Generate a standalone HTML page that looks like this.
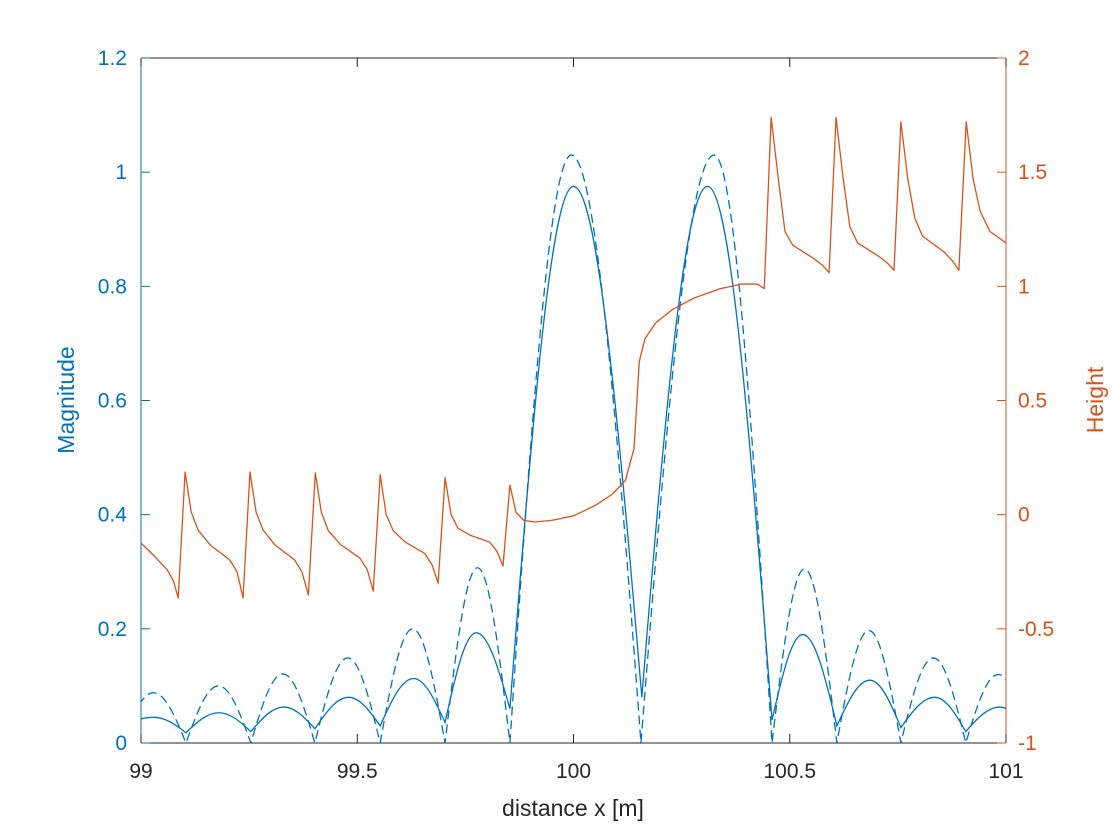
<!DOCTYPE html>
<html><head><meta charset="utf-8"><style>
html,body{margin:0;padding:0;background:#fff;}
svg{display:block;font-family:"Liberation Sans",sans-serif;}
</style></head><body>
<svg id="chart" width="1113" height="834" viewBox="0 0 1113 834" xmlns="http://www.w3.org/2000/svg">
<defs><clipPath id="plotclip"><rect x="141" y="58" width="865" height="685"/></clipPath></defs>
<rect width="1113" height="834" fill="#fff"/>
<g id="axes"></g>
<g id="series" clip-path="url(#plotclip)"></g>
<g id="labels"></g>
</svg>
<script>
// x tick values
const xTicks = [99, 99.5, 100, 100.5, 101];
const xTickLabels = ["99", "99.5", "100", "100.5", "101"];
const leftTicks = [0, 0.2, 0.4, 0.6, 0.8, 1, 1.2];
const leftTickLabels = ["0", "0.2", "0.4", "0.6", "0.8", "1", "1.2"];
const rightTicks = [-1, -0.5, 0, 0.5, 1, 1.5, 2];
const rightTickLabels = ["-1", "-0.5", "0", "0.5", "1", "1.5", "2"];

// dashed magnitude: lobe minima (x, value) and lobe peaks (x, value)
const dashMinX = [98.954, 99.104, 99.254, 99.402, 99.553, 99.703, 99.853, 100.156, 100.459, 100.609, 100.757, 100.907, 101.057];
const dashMin = [0, 0, 0, 0, 0, 0, 0, 0, 0, 0, 0, 0, 0];
const dashPeakX = [99.029, 99.179, 99.328, 99.478, 99.628, 99.778, 99.995, 100.325, 100.534, 100.683, 100.832, 100.982];
const dashPeak = [0.088, 0.100, 0.121, 0.149, 0.200, 0.307, 1.03, 1.03, 0.305, 0.197, 0.149, 0.12];

// solid magnitude
const solidMinX = [98.954, 99.104, 99.254, 99.402, 99.553, 99.703, 99.853, 100.158, 100.459, 100.609, 100.757, 100.907, 101.057];
const solidMin = [0.03, 0.018, 0.02, 0.025, 0.03, 0.036, 0.06, 0.08, 0.04, 0.03, 0.027, 0.02, 0.02];
const solidPeakX = [99.03, 99.18, 99.33, 99.48, 99.63, 99.775, 100.0, 100.31, 100.53, 100.685, 100.835, 100.985];
const solidPeak = [0.045, 0.053, 0.063, 0.08, 0.113, 0.193, 0.975, 0.975, 0.19, 0.11, 0.08, 0.063];

// height (right axis)
const heightX = [99.000,99.030,99.060,99.075,99.086,99.102,99.116,99.132,99.160,99.205,99.222,99.236,99.252,99.266,99.282,99.310,99.355,99.372,99.387,99.403,99.417,99.433,99.461,99.506,99.523,99.537,99.553,99.567,99.583,99.611,99.656,99.673,99.687,99.703,99.717,99.733,99.761,99.806,99.823,99.837,99.853,99.867,99.885,99.91,99.95,100.0,100.05,100.09,100.12,100.14,100.152,100.165,100.19,100.23,100.28,100.34,100.39,100.425,100.441,100.457,100.473,100.489,100.507,100.557,100.577,100.591,100.607,100.623,100.639,100.657,100.707,100.727,100.741,100.757,100.773,100.789,100.807,100.857,100.877,100.891,100.908,100.924,100.94,100.963,101.0];
const heightY = [-0.124,-0.18,-0.24,-0.29,-0.365,0.187,0.012,-0.067,-0.133,-0.198,-0.25,-0.365,0.187,0.012,-0.067,-0.133,-0.198,-0.25,-0.352,0.183,0.01,-0.07,-0.13,-0.19,-0.24,-0.335,0.175,0.0,-0.07,-0.12,-0.17,-0.22,-0.30,0.162,0.0,-0.06,-0.09,-0.12,-0.16,-0.225,0.130,0.01,-0.025,-0.032,-0.025,-0.005,0.04,0.09,0.15,0.29,0.67,0.77,0.84,0.90,0.95,0.99,1.01,1.01,0.99,1.74,1.48,1.24,1.18,1.12,1.09,1.06,1.74,1.48,1.26,1.19,1.13,1.10,1.07,1.72,1.47,1.30,1.22,1.15,1.11,1.07,1.72,1.47,1.33,1.24,1.19];

const L=141,R=1006,T=58,B=743;
const sx = v => L + (v-99)/(101-99)*(R-L);
const syL = v => B - (v-0)/(1.2-0)*(B-T);
const syR = v => B - (v+1)/(2+1)*(B-T);
const NS="http://www.w3.org/2000/svg";
const BLUE="#0072BD", ORANGE="#D95319", GRAY="#262626";
function mk(tag, attrs, parent){const e=document.createElementNS(NS,tag);for(const k in attrs)e.setAttribute(k,attrs[k]);parent.appendChild(e);return e;}
const axes=document.getElementById('axes'), series=document.getElementById('series'), labels=document.getElementById('labels');

// box
let ln=mk('line',{x1:L,y1:T,x2:R,y2:T,stroke:GRAY,'stroke-width':1},axes);


ln=mk('line',{x1:L,y1:B,x2:R,y2:B,stroke:GRAY,'stroke-width':1},axes);


ln=mk('line',{x1:L,y1:T,x2:L,y2:B,stroke:BLUE,'stroke-width':1},axes);


ln=mk('line',{x1:R,y1:T,x2:R,y2:B,stroke:ORANGE,'stroke-width':1},axes);



xTicks.forEach((v,i)=>{
  const x=sx(v);
  const t=mk('path',{d:`M${x},${B}V${B-9}M${x},${T}V${T+9}`,stroke:GRAY,'stroke-width':1},axes);
  
  
  const tx=mk('text',{x:x,y:778,'font-size':21,fill:GRAY,'text-anchor':'middle'},labels);
  tx.textContent=xTickLabels[i];
  
  
});
leftTicks.forEach((v,i)=>{
  const y=syL(v);
  const t=mk('path',{d:`M${L},${y}H${L+9}`,stroke:BLUE,'stroke-width':1},axes);
  
  
  const tx=mk('text',{x:127,y:y+7,'font-size':21,fill:BLUE,'text-anchor':'end'},labels);
  tx.textContent=leftTickLabels[i];
  
  
});
rightTicks.forEach((v,i)=>{
  const y=syR(v);
  const t=mk('path',{d:`M${R},${y}H${R-9}`,stroke:ORANGE,'stroke-width':1},axes);
  
  
  const tx=mk('text',{x:1018,y:y+7,'font-size':21,fill:ORANGE,'text-anchor':'start'},labels);
  tx.textContent=rightTickLabels[i];
  
  
});

let lab=mk('text',{x:573,y:816,'font-size':23,fill:GRAY,'text-anchor':'middle'},labels);
lab.textContent='distance x [m]';


lab=mk('text',{x:0,y:0,'font-size':23,fill:BLUE,'text-anchor':'middle',transform:'translate(74,400) rotate(-90)'},labels);
lab.textContent='Magnitude';


lab=mk('text',{x:0,y:0,'font-size':23,fill:ORANGE,'text-anchor':'middle',transform:'translate(1103,400) rotate(-90)'},labels);
lab.textContent='Height';



// lobe path: minima -> peaks -> minima, sine-like bezier per quarter
function lobePath(minX,minV,peakX,peakV){
  let d=`M${sx(minX[0])},${syL(minV[0])}`;
  for(let i=0;i<peakX.length;i++){
    const x0=sx(minX[i]),y0=syL(minV[i]),xp=sx(peakX[i]),yp=syL(peakV[i]),x1=sx(minX[i+1]),y1=syL(minV[i+1]);
    let dx=xp-x0,dy=yp-y0;
    d+=`C${x0+0.36*dx},${y0+0.57*dy} ${x0+0.66*dx},${yp} ${xp},${yp}`;
    dx=x1-xp;dy=y1-yp;
    d+=`C${xp+0.34*dx},${yp} ${xp+0.64*dx},${yp+0.43*dy} ${x1},${y1}`;
  }
  return d;
}
let p=mk('path',{d:lobePath(dashMinX,dashMin,dashPeakX,dashPeak),fill:'none',stroke:BLUE,'stroke-width':1.3,'stroke-dasharray':'9,5'},series);


p=mk('path',{d:lobePath(solidMinX,solidMin,solidPeakX,solidPeak),fill:'none',stroke:BLUE,'stroke-width':1.3},series);


p=mk('polyline',{points:heightX.map((x,i)=>sx(x)+','+syR(heightY[i])).join(' '),fill:'none',stroke:ORANGE,'stroke-width':1.3,'stroke-linejoin':'round'},series);


</script>
</body></html>
